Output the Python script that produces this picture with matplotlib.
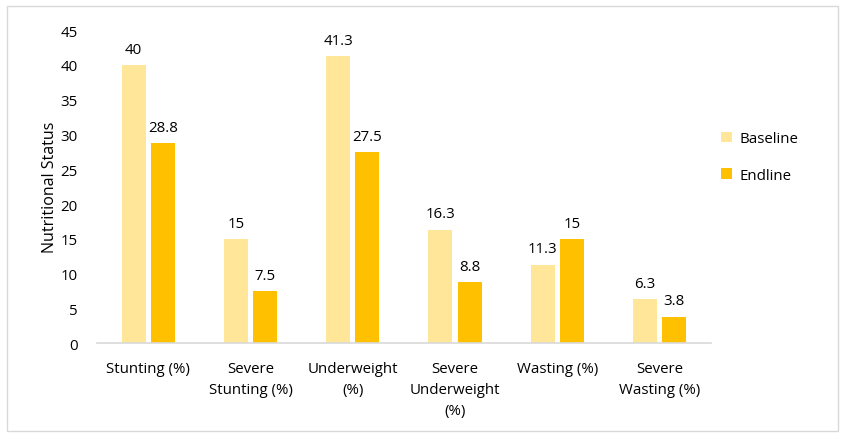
import matplotlib.pyplot as plt
import numpy as np
from matplotlib.patches import Rectangle

plt.rcParams['font.family'] = ['Open Sans', 'DejaVu Sans']

# data
categories = ['Stunting (%)', 'Severe\nStunting (%)', 'Underweight\n(%)',
              'Severe\nUnderweight\n(%)', 'Wasting (%)', 'Severe\nWasting (%)']
baseline = [40, 15, 41.3, 16.3, 11.3, 6.3]
endline = [28.8, 7.5, 27.5, 8.8, 15, 3.8]
baseline_labels = ['40', '15', '41.3', '16.3', '11.3', '6.3']
endline_labels = ['28.8', '7.5', '27.5', '8.8', '15', '3.8']

C_BASE = '#FFE699'
C_END = '#FFC000'

fig = plt.figure(figsize=(8.44, 4.39), dpi=100)
ax = fig.add_axes([0.115, 0.216, 0.727, 0.713])

x = np.arange(len(categories))
w = 0.235
gap = 0.025
b1 = ax.bar(x - w / 2 - gap, baseline, w, color=C_BASE, label='Baseline')
b2 = ax.bar(x + w / 2 + gap, endline, w, color=C_END, label='Endline')

# value labels above bars
for bar, lab in zip(b1, baseline_labels):
    ax.annotate(lab, (bar.get_x() + bar.get_width() / 2, bar.get_height()),
                xytext=(0, 6), textcoords='offset points', ha='center', va='bottom',
                fontsize=10.8, color='#000000')
for bar, lab in zip(b2, endline_labels):
    ax.annotate(lab, (bar.get_x() + bar.get_width() / 2, bar.get_height()),
                xytext=(0, 6), textcoords='offset points', ha='center', va='bottom',
                fontsize=10.8, color='#000000')

ax.set_xlim(-0.5, len(categories) - 0.5)
ax.set_ylim(0, 45)
ax.set_yticks(range(0, 50, 5))
ax.set_xticks(x)
ax.set_xticklabels(categories, fontsize=10.8, linespacing=1.55)
ax.tick_params(axis='y', labelsize=10.8, length=0, pad=14)
ax.tick_params(axis='x', length=0, pad=13)

for s in ['top', 'right', 'left']:
    ax.spines[s].set_visible(False)
ax.spines['bottom'].set_color('#D9D9D9')
ax.spines['bottom'].set_linewidth(1.2)

ax.set_ylabel('Nutritional Status', fontsize=11.5, labelpad=2)

leg = ax.legend(loc='center left', bbox_to_anchor=(0.995, 0.595), frameon=False,
                fontsize=10.8, handlelength=0.7, handleheight=0.7, labelspacing=1.45,
                handletextpad=0.5)

# outer border
fig.patches.append(Rectangle((0.008, 0.015), 0.985, 0.97, transform=fig.transFigure,
                             fill=False, edgecolor='#D9D9D9', linewidth=1))

fig.savefig('out.png', dpi=100)
